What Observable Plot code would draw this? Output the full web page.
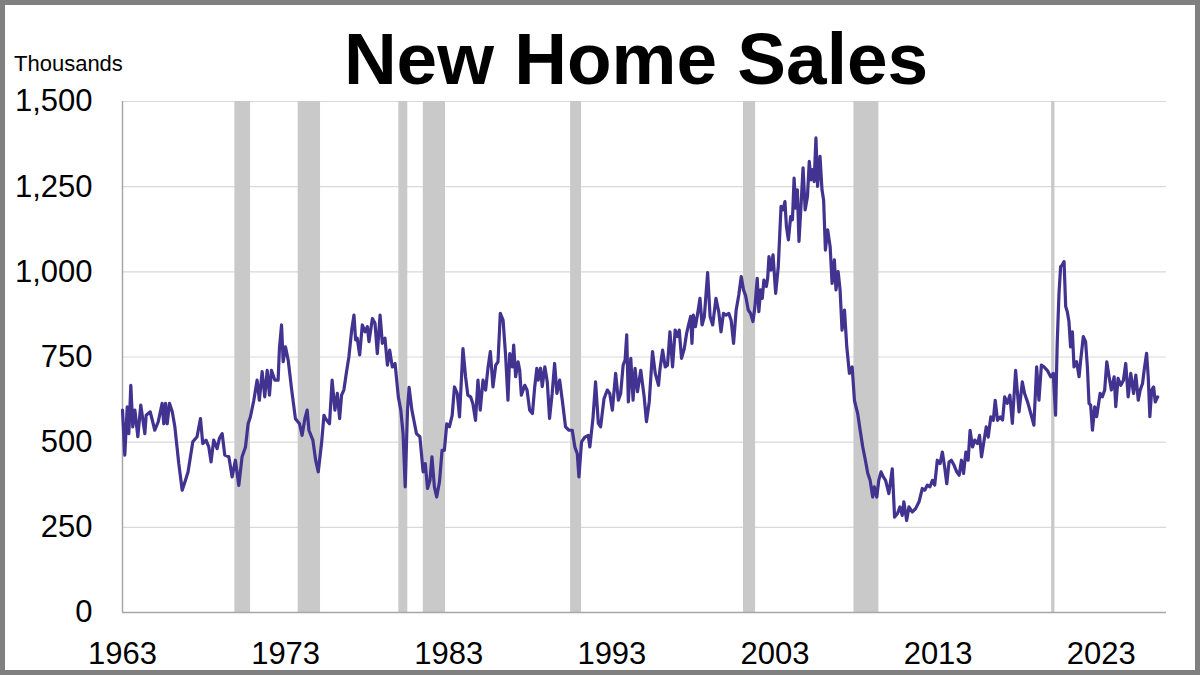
<!DOCTYPE html>
<html>
<head>
<meta charset="utf-8">
<script src="https://cdn.jsdelivr.net/npm/d3@7"></script>
<script src="https://cdn.jsdelivr.net/npm/@observablehq/plot@0.6"></script>
<style>
  html, body { margin: 0; padding: 0; background: #fff; }
  #frame { position: relative; width: 1200px; height: 675px; overflow: hidden; background: #fff; font-family: "Liberation Sans", Arial, sans-serif; }
  #header { position: relative; height: 80px; }
  #title { position: absolute; left: 0; width: 1272px; top: 22px; text-align: center; font-weight: bold; font-size: 73px; line-height: 73px; color: #000; }
  #units { position: absolute; left: 14px; top: 53px; font-size: 22px; line-height: 22px; color: #000; }
  #border { position: absolute; left: 0; top: 0; width: 1200px; height: 675px; box-sizing: border-box; border: 5px solid #808080; pointer-events: none; }
</style>
</head>
<body>
<div id="frame">
  <div id="header"></div>
  <div id="chart"></div>
  <div id="title">New Home Sales</div>
  <div id="units">Thousands</div>
  <div id="border"></div>
</div>
<script>
// Monthly-ish new home sales (thousands, SAAR): [decimal year, value]
const sales = [
  [1963.00,594],[1963.14,462],[1963.29,604],[1963.39,525],[1963.51,667],[1963.63,545],[1963.76,594],[1963.94,516],
  [1964.12,609],[1964.37,525],[1964.45,579],[1964.70,589],[1964.98,535],[1965.19,560],[1965.43,614],[1965.53,554],
  [1965.64,614],[1965.74,554],[1965.88,614],[1966.05,589],[1966.21,545],[1966.45,437],[1966.66,359],[1966.86,388],
  [1967.02,413],[1967.31,501],[1967.57,516],[1967.78,569],[1967.92,496],[1968.12,506],[1968.29,486],[1968.43,442],
  [1968.59,506],[1968.80,481],[1968.94,511],[1969.11,525],[1969.27,462],[1969.52,457],[1969.72,398],[1969.92,447],
  [1970.13,373],[1970.33,457],[1970.54,486],[1970.70,554],[1970.84,574],[1971.05,623],[1971.25,682],[1971.39,623],
  [1971.56,707],[1971.72,633],[1971.87,711],[1972.01,638],[1972.13,711],[1972.34,682],[1972.54,682],[1972.62,775],
  [1972.75,844],[1972.85,736],[1972.99,780],[1973.16,740],[1973.36,658],[1973.60,569],[1973.85,554],[1974.01,520],
  [1974.18,569],[1974.32,594],[1974.43,535],[1974.67,506],[1974.84,447],[1975.00,413],[1975.20,496],[1975.35,579],
  [1975.45,569],[1975.69,554],[1975.85,682],[1976.02,594],[1976.17,643],[1976.31,569],[1976.43,638],[1976.57,653],
  [1976.72,702],[1976.88,751],[1977.05,829],[1977.19,873],[1977.29,800],[1977.39,805],[1977.54,756],[1977.70,844],
  [1977.87,824],[1978.01,839],[1978.11,795],[1978.32,863],[1978.48,849],[1978.62,760],[1978.79,873],[1978.93,790],
  [1979.09,805],[1979.24,726],[1979.38,770],[1979.54,721],[1979.71,731],[1979.91,633],[1980.06,594],[1980.20,525],
  [1980.33,369],[1980.47,594],[1980.57,661],[1980.74,594],[1980.88,560],[1981.02,525],[1981.23,516],[1981.43,413],
  [1981.56,437],[1981.70,364],[1981.85,388],[1981.97,457],[1982.12,369],[1982.26,339],[1982.43,383],[1982.59,476],
  [1982.73,476],[1982.88,554],[1983.04,545],[1983.21,579],[1983.35,662],[1983.52,643],[1983.66,574],[1983.87,775],
  [1984.03,692],[1984.17,638],[1984.34,633],[1984.48,613],[1984.64,564],[1984.79,682],[1984.93,594],[1985.10,682],
  [1985.26,653],[1985.40,716],[1985.55,766],[1985.71,662],[1985.88,726],[1986.02,736],[1986.16,878],[1986.33,858],
  [1986.49,751],[1986.63,623],[1986.74,760],[1986.90,721],[1986.98,785],[1987.10,692],[1987.25,736],[1987.35,711],
  [1987.45,638],[1987.66,667],[1987.80,653],[1987.96,594],[1988.13,584],[1988.27,662],[1988.40,717],[1988.48,682],
  [1988.63,717],[1988.73,663],[1988.89,721],[1989.04,677],[1989.18,570],[1989.34,643],[1989.49,731],[1989.63,643],
  [1989.80,682],[1989.96,623],[1990.16,545],[1990.37,535],[1990.57,535],[1990.73,486],[1990.88,466],[1990.98,398],
  [1991.14,501],[1991.35,515],[1991.55,520],[1991.65,486],[1991.84,570],[1992.00,677],[1992.17,555],[1992.31,545],
  [1992.52,628],[1992.72,653],[1992.87,643],[1993.03,594],[1993.23,702],[1993.40,623],[1993.54,643],[1993.69,726],
  [1993.81,741],[1993.91,815],[1994.01,618],[1994.16,746],[1994.30,623],[1994.42,717],[1994.57,648],[1994.77,711],
  [1994.98,633],[1995.12,560],[1995.29,618],[1995.49,766],[1995.66,702],[1995.86,667],[1995.94,711],[1996.11,770],
  [1996.27,721],[1996.41,726],[1996.56,824],[1996.72,721],[1996.88,829],[1997.03,810],[1997.13,829],[1997.27,746],
  [1997.44,775],[1997.58,819],[1997.70,844],[1997.83,869],[1997.91,790],[1997.99,873],[1998.12,839],[1998.26,878],
  [1998.40,922],[1998.53,844],[1998.67,869],[1998.87,998],[1999.02,869],[1999.18,844],[1999.38,922],[1999.55,883],
  [1999.69,824],[1999.84,878],[2000.00,873],[2000.17,878],[2000.31,858],[2000.46,790],[2000.62,888],[2000.78,932],
  [2000.93,986],[2001.07,947],[2001.20,930],[2001.36,888],[2001.50,878],[2001.65,854],[2001.77,898],[2001.91,981],
  [2002.01,883],[2002.12,947],[2002.22,922],[2002.32,976],[2002.47,957],[2002.55,981],[2002.63,1045],[2002.75,1005],
  [2002.88,1050],[2003.04,937],[2003.20,1015],[2003.37,1192],[2003.49,1182],[2003.61,1206],[2003.70,1133],[2003.82,1094],
  [2003.96,1162],[2004.07,1153],[2004.17,1275],[2004.27,1187],[2004.37,1241],[2004.47,1089],[2004.58,1182],[2004.72,1305],
  [2004.85,1182],[2004.99,1221],[2005.10,1324],[2005.20,1270],[2005.30,1300],[2005.40,1265],[2005.51,1393],[2005.61,1251],
  [2005.76,1339],[2005.88,1241],[2005.98,1211],[2006.09,1064],[2006.23,1123],[2006.38,1074],[2006.50,966],[2006.64,1035],
  [2006.74,947],[2006.87,1001],[2006.99,947],[2007.11,829],[2007.26,888],[2007.40,780],[2007.56,702],[2007.73,721],
  [2007.87,623],[2008.07,584],[2008.22,535],[2008.38,486],[2008.54,447],[2008.69,408],[2008.83,388],[2008.99,339],
  [2009.09,369],[2009.24,339],[2009.36,388],[2009.50,413],[2009.64,398],[2009.78,388],[2009.98,349],[2010.19,422],
  [2010.33,280],[2010.50,290],[2010.66,310],[2010.80,285],[2010.90,325],[2011.07,270],[2011.21,310],[2011.42,295],
  [2011.62,305],[2011.83,325],[2012.03,364],[2012.18,359],[2012.34,374],[2012.50,369],[2012.65,388],[2012.79,374],
  [2012.95,447],[2013.12,437],[2013.26,471],[2013.40,427],[2013.53,378],[2013.67,442],[2013.81,447],[2013.98,432],
  [2014.14,413],[2014.29,403],[2014.43,447],[2014.56,408],[2014.70,471],[2014.84,447],[2014.96,535],[2015.11,486],
  [2015.25,506],[2015.41,496],[2015.54,520],[2015.66,457],[2015.82,506],[2015.95,545],[2016.07,515],[2016.23,574],
  [2016.38,564],[2016.50,623],[2016.64,564],[2016.81,574],[2016.95,565],[2017.08,633],[2017.24,614],[2017.40,638],
  [2017.55,555],[2017.75,711],[2017.96,589],[2018.16,677],[2018.30,643],[2018.51,614],[2018.71,579],[2018.87,550],
  [2019.04,721],[2019.18,623],[2019.33,726],[2019.49,721],[2019.69,711],[2019.90,692],[2020.06,702],[2020.20,579],
  [2020.30,790],[2020.41,937],[2020.51,1015],[2020.61,1020],[2020.72,1030],[2020.82,898],[2020.92,883],[2021.02,854],
  [2021.12,780],[2021.23,824],[2021.33,721],[2021.49,736],[2021.64,692],[2021.74,741],[2021.90,810],[2022.04,795],
  [2022.15,721],[2022.25,614],[2022.35,609],[2022.46,535],[2022.60,604],[2022.72,575],[2022.93,643],[2023.07,633],
  [2023.21,653],[2023.34,736],[2023.48,692],[2023.62,653],[2023.79,692],[2023.89,604],[2024.03,687],[2024.20,667],
  [2024.36,682],[2024.50,731],[2024.65,633],[2024.81,702],[2024.98,643],[2025.12,697],[2025.27,623],[2025.39,653],
  [2025.53,672],[2025.63,711],[2025.78,761],[2025.88,692],[2025.98,575],[2026.09,653],[2026.21,662],[2026.31,618],
  [2026.46,633]
];

// Recession periods (decimal years) as shaded in the reference
const recessionStart = [1969.89, 1973.77, 1979.94, 1981.44, 1990.47, 2001.07, 2007.84, 2019.96];
const recessionEnd   = [1970.85, 1975.14, 1980.49, 1982.80, 1991.14, 2001.81, 2009.37, 2020.16];

const xTicks = [1963, 1973, 1983, 1993, 2003, 2013, 2023];
const yTicks = [0, 250, 500, 750, 1000, 1250, 1500];

const lineColor = "#41338F";
const barColor = "#C9C9C9";

const salesRows = sales.map(([year, value]) => ({year, value}));
const recessions = recessionStart.map((s, i) => ({start: s, end: recessionEnd[i]}));

const chart = Plot.plot({
  width: 1200,
  height: 595,
  marginTop: 21,
  marginBottom: 63,
  marginLeft: 122,
  marginRight: 34,
  style: {fontFamily: "'Liberation Sans', Arial, sans-serif", fontSize: "31px", color: "#000", background: "transparent"},
  x: {domain: [1963, 2027], label: null},
  y: {domain: [0, 1500], label: null},
  marks: [
    Plot.gridY(yTicks.filter(d => d > 0), {stroke: "#D9D9D9", strokeOpacity: 1, strokeWidth: 1.2}),
    Plot.rect(recessions, {x1: "start", x2: "end", y1: () => 0, y2: () => 1500, fill: barColor}),
    Plot.ruleY([0], {stroke: "#A6A6A6", strokeWidth: 1.5}),
    Plot.ruleX([1963], {stroke: "#A6A6A6", strokeWidth: 1.5}),
    Plot.axisX({ticks: xTicks, tickFormat: d => String(d), tickSize: 0, tickPadding: 29, label: null}),
    Plot.axisY({ticks: yTicks, tickFormat: d3.format(","), tickSize: 0, tickPadding: 30, label: null}),
    Plot.line(salesRows, {x: "year", y: "value", stroke: lineColor, strokeWidth: 3.2, strokeLinejoin: "round"})
  ]
});
document.getElementById("chart").appendChild(chart);
</script>
</body>
</html>
